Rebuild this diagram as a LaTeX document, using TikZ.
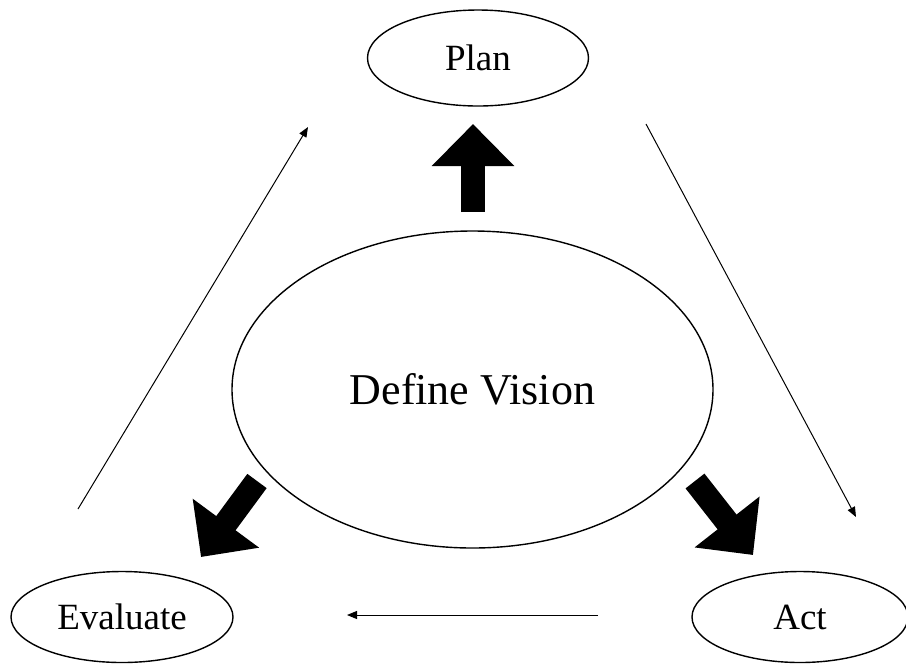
\documentclass[tikz,border=0pt]{standalone}
\usepackage{fontspec}
\setmainfont{Liberation Serif}
\usetikzlibrary{arrows.meta,shapes.geometric}
\begin{document}
\begin{tikzpicture}[x=0.5pt,y=-0.5pt,
  stage/.style={draw, ellipse, line width=0.7pt, inner sep=0pt,
    font=\fontsize{18.5}{20}\selectfont},
  bigarrow/.style={line width=12pt, -{Triangle[length=21pt,width=40pt]}},
  thinarrow/.style={line width=0.5pt, -{Triangle[length=5pt,width=4pt]}}]
\useasboundingbox (0,0) rectangle (906,666);
\clip (0,0) rectangle (906,666);

% the four stages
\node[stage, minimum width=110.5pt, minimum height=48pt] (plan) at (478,58) {Plan};
\node[stage, minimum width=240.5pt, minimum height=158.5pt,
  font=\fontsize{22}{24}\selectfont] (vision) at (472.5,389.5) {Define Vision};
\node[stage, minimum width=111pt, minimum height=45.5pt] (eval) at (122,617) {Evaluate};
\node[stage, minimum width=108pt, minimum height=45.5pt] (act) at (800,617) {Act};

% end points of the block arrows around the vision
\coordinate (upTail) at (473,212);
\coordinate (upTip) at (473,124);
\coordinate (leftTail) at (257,481);
\coordinate (leftTip) at (201,557);
\coordinate (rightTail) at (695,481);
\coordinate (rightTip) at (753,555);

\draw[bigarrow] (upTail) -- (upTip);
\draw[bigarrow] (leftTail) -- (leftTip);
\draw[bigarrow] (rightTail) -- (rightTip);

% end points of the cycle arrows
\coordinate (evalOut) at (78,509);
\coordinate (planIn) at (308,127);
\coordinate (planOut) at (646,124);
\coordinate (actIn) at (856,517);
\coordinate (actOut) at (598,615);
\coordinate (evalIn) at (347,615);

\draw[thinarrow] (evalOut) -- (planIn);
\draw[thinarrow] (planOut) -- (actIn);
\draw[thinarrow] (actOut) -- (evalIn);
\end{tikzpicture}
\end{document}
